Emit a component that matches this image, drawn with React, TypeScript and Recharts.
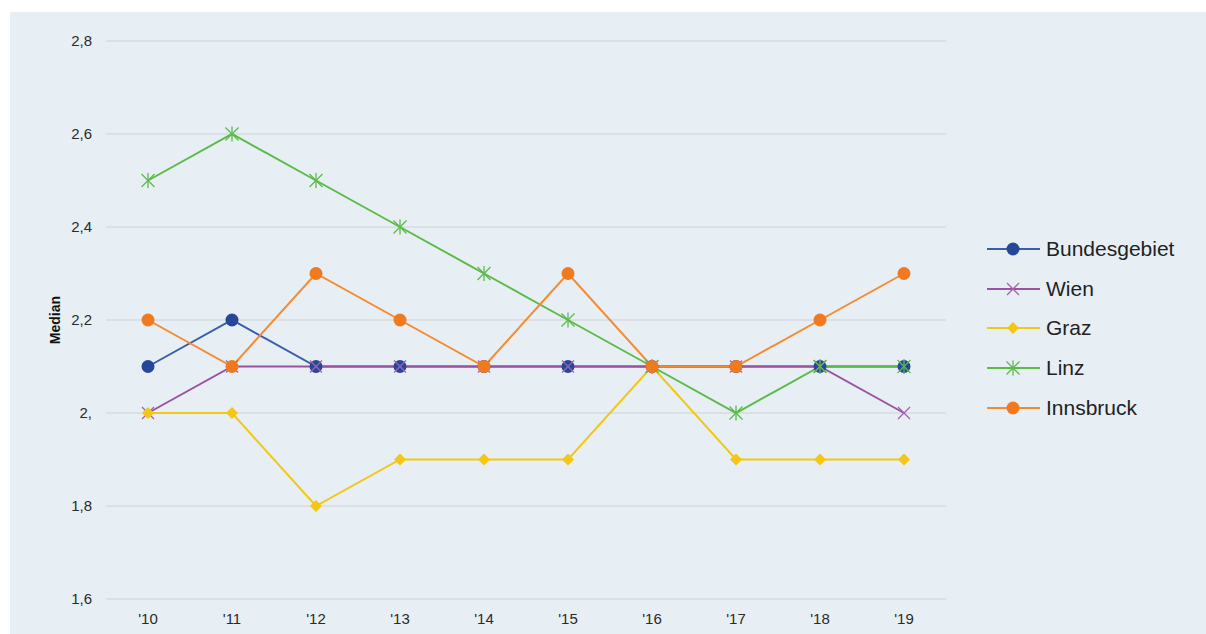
import { LineChart, Line, XAxis, YAxis, CartesianGrid } from "recharts"

// values (median per year)
const years = ["'10", "'11", "'12", "'13", "'14", "'15", "'16", "'17", "'18", "'19"]
const bundesgebiet = [2.1, 2.2, 2.1, 2.1, 2.1, 2.1, 2.1, 2.1, 2.1, 2.1]
const wien = [2.0, 2.1, 2.1, 2.1, 2.1, 2.1, 2.1, 2.1, 2.1, 2.0]
const graz = [2.0, 2.0, 1.8, 1.9, 1.9, 1.9, 2.1, 1.9, 1.9, 1.9]
const linz = [2.5, 2.6, 2.5, 2.4, 2.3, 2.2, 2.1, 2.0, 2.1, 2.1]
const innsbruck = [2.2, 2.1, 2.3, 2.2, 2.1, 2.3, 2.1, 2.1, 2.2, 2.3]

const yTicks = [1.6, 1.8, 2.0, 2.2, 2.4, 2.6, 2.8]
const yTickLabels = ["1,6", "1,8", "2,", "2,2", "2,4", "2,6", "2,8"]

const data = years.map((y, i) => ({
    year: y,
    bundesgebiet: bundesgebiet[i],
    wien: wien[i],
    graz: graz[i],
    linz: linz[i],
    innsbruck: innsbruck[i],
}))

type Shape = "circle" | "cross" | "diamond" | "star"

interface SeriesDef {
    key: string
    name: string
    line: string
    marker: string
    shape: Shape
}

const series: Array<SeriesDef> = [
    { key: "bundesgebiet", name: "Bundesgebiet", line: "#3b5dab", marker: "#28479a", shape: "circle" },
    { key: "wien", name: "Wien", line: "#9a52a2", marker: "#a261ab", shape: "cross" },
    { key: "graz", name: "Graz", line: "#f2c716", marker: "#f3c712", shape: "diamond" },
    { key: "linz", name: "Linz", line: "#5cba48", marker: "#5cba48", shape: "star" },
    { key: "innsbruck", name: "Innsbruck", line: "#f58b2e", marker: "#f07a20", shape: "circle" },
]

const font = "'Liberation Sans', Arial, sans-serif"

const Marker = ({ shape, color, cx, cy }: { shape: Shape, color: string, cx: number, cy: number }) => {
    if (shape === "circle") {
        return <circle cx={cx} cy={cy} r={6.5} fill={color} />
    }
    if (shape === "diamond") {
        const r = 6
        return <polygon points={`${cx},${cy - r} ${cx + r},${cy} ${cx},${cy + r} ${cx - r},${cy}`} fill={color} />
    }
    if (shape === "cross") {
        const r = 6
        return <g stroke={color} strokeWidth={1.3}>
            <line x1={cx - r} y1={cy - r} x2={cx + r} y2={cy + r} />
            <line x1={cx - r} y1={cy + r} x2={cx + r} y2={cy - r} />
        </g>
    }
    const r = 6.5
    return <g stroke={color} strokeWidth={1.3}>
        <line x1={cx} y1={cy - r - 1} x2={cx} y2={cy + r + 1} />
        <line x1={cx - r} y1={cy - r} x2={cx + r} y2={cy + r} />
        <line x1={cx - r} y1={cy + r} x2={cx + r} y2={cy - r} />
    </g>
}

const Legend = () => (
    <div style={{ position: "absolute", left: 977, top: 217, fontFamily: font }}>
        {series.map((s) => (
            <div key={s.key} style={{ display: "flex", alignItems: "center", height: 39.75 }}>
                <svg width={54} height={20}>
                    <line x1={0} y1={10} x2={53} y2={10} stroke={s.line} strokeWidth={2} />
                    <Marker shape={s.shape} color={s.marker} cx={26} cy={10} />
                </svg>
                <span style={{ marginLeft: 5, fontSize: 21, color: "#222" }}>{s.name}</span>
            </div>
        ))}
    </div>
)

const App = () => {
    return <div style={{ position: "fixed", left: 10, top: 12, width: 1196, height: 622, background: "#e7eff5" }}>
        <LineChart width={1196} height={622} data={data} margin={{ top: 29, right: 260, left: 0, bottom: 5 }}>
            <CartesianGrid vertical={false} stroke="#cdd2d5" />
            <XAxis dataKey="year" axisLine={false} tickLine={false} height={30} tickMargin={8}
                padding={{ left: 42, right: 42 }}
                tick={{ fill: "#2a2a2a", fontSize: 15, fontFamily: font }} />
            <YAxis width={96} domain={[1.6, 2.8]} ticks={yTicks} axisLine={false} tickLine={false} tickMargin={8}
                tickFormatter={(v: number) => yTickLabels[yTicks.findIndex((t) => Math.abs(t - v) < 1e-6)] ?? String(v)}
                tick={{ fill: "#2a2a2a", fontSize: 15, fontFamily: font }}
                label={{ value: "Median", angle: -90, position: "center", dx: -3, style: { fontWeight: "bold", fontSize: 14, fill: "#111", fontFamily: font } }} />
            {series.map((s) => (
                <Line key={s.key} dataKey={s.key} name={s.name} stroke={s.line} strokeWidth={2}
                    isAnimationActive={false} activeDot={false}
                    dot={(p: any) => <Marker key={`${s.key}-${p.index}`} shape={s.shape} color={s.marker} cx={p.cx} cy={p.cy} />} />
            ))}
        </LineChart>
        <Legend />
    </div>
}

export default App
